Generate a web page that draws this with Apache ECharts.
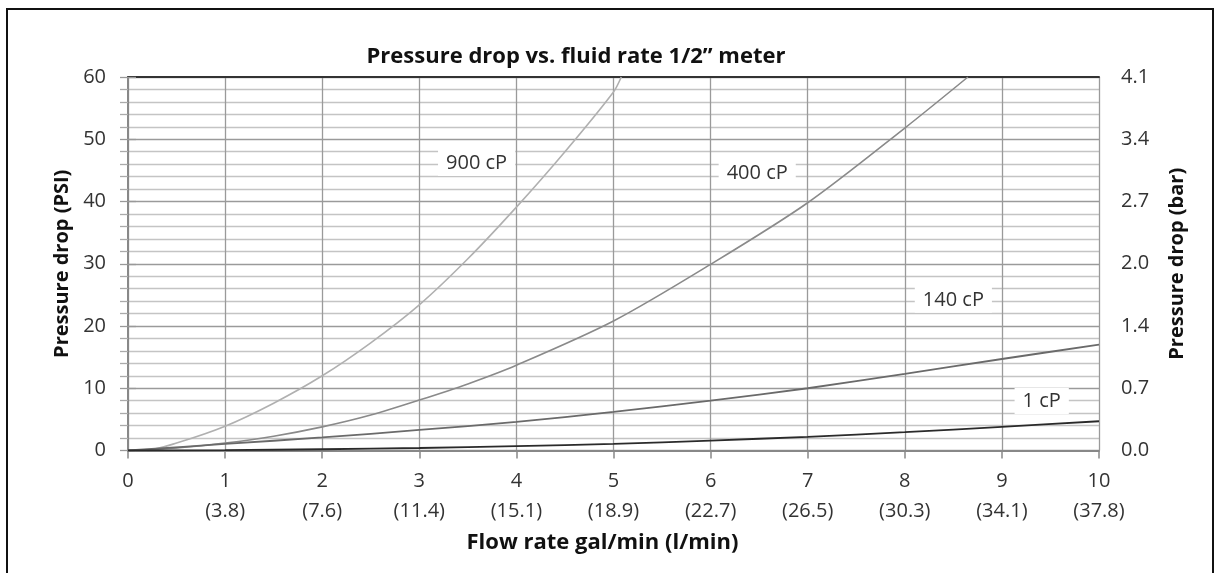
<!DOCTYPE html>
<html>
<head>
<meta charset="utf-8">
<script src="https://cdn.jsdelivr.net/npm/echarts@6/dist/echarts.min.js"></script>
<style>
html,body{margin:0;padding:0;background:#fff;}
#chart{width:1218px;height:573px;}
</style>
</head>
<body>
<div id="chart"></div>
<script>
// ---- data ----
var titleText = 'Pressure drop vs. fluid rate 1/2\u201d meter';
var xAxisTitle = 'Flow rate gal/min (l/min)';
var yLeftTitle = 'Pressure drop (PSI)';
var yRightTitle = 'Pressure drop (bar)';
var xTickLabels = ['0', '1\n(3.8)', '2\n(7.6)', '3\n(11.4)', '4\n(15.1)', '5\n(18.9)', '6\n(22.7)', '7\n(26.5)', '8\n(30.3)', '9\n(34.1)', '10\n(37.8)'];
var barTickLabels = ['0.0', '0.7', '1.4', '2.0', '2.7', '3.4', '4.1'];
var seriesNames = ['900 cP', '400 cP', '140 cP', '1 cP'];

var flow900 = [0, 0.2, 0.5, 1, 1.5, 2, 2.5, 3, 3.5, 4, 4.5, 5, 5.08];
var psi900  = [0, 0.05, 1.2, 3.9, 7.6, 12.0, 17.3, 23.4, 30.8, 39.1, 48.0, 57.6, 60];
var flow400 = [0, 0.5, 1, 1.5, 2, 2.5, 3, 3.5, 4, 5, 6, 7, 8, 8.65];
var psi400  = [0, 0.4, 1.2, 2.3, 3.8, 5.7, 8.1, 10.7, 13.7, 20.8, 29.9, 39.8, 51.8, 60];
var flow140 = [0, 1, 2, 3, 4, 5, 6, 7, 8, 9, 10];
var psi140  = [0, 1.05, 2.1, 3.3, 4.6, 6.2, 8.0, 10.0, 12.3, 14.7, 17.0];
var flow1   = [0, 1, 2, 3, 4, 5, 6, 7, 8, 9, 10];
var psi1    = [0, 0.05, 0.2, 0.4, 0.7, 1.05, 1.6, 2.2, 2.95, 3.8, 4.7];

function pairs(xs, ys) { return xs.map(function (x, i) { return [x, ys[i]]; }); }

var FONT = '"Open Sans"';
var chart = echarts.init(document.getElementById('chart'), null, {renderer: 'canvas'});

function curve(name, xs, ys, color, width, labelCoord) {
  return {
    name: name,
    type: 'line',
    data: pairs(xs, ys),
    smooth: 0.3,
    showSymbol: false,
    symbol: 'none',
    lineStyle: {color: color, width: width},
    z: 3,
    markPoint: {
      symbol: 'rect',
      symbolSize: 1,
      itemStyle: {color: 'rgba(0,0,0,0)'},
      silent: true,
      data: [{coord: labelCoord}],
      label: {
        show: true,
        position: 'inside',
        formatter: name,
        color: '#333',
        fontFamily: FONT,
        fontSize: 20,
        backgroundColor: '#fff',
        padding: [3, 8, 3, 8]
      }
    }
  };
}

var option = {
  animation: false,
  backgroundColor: '#fff',
  textStyle: {fontFamily: FONT},
  grid: {left: 128, right: 119, top: 77, bottom: 122.5, containLabel: false},
  graphic: [
    {type: 'rect', shape: {x: 7, y: 9, width: 1206, height: 620},
     style: {fill: 'none', stroke: '#111', lineWidth: 2}, z: 100},
    {type: 'text', x: 576, y: 57, z: 100,
     style: {text: titleText, fontFamily: FONT, fontWeight: 'bold', fontSize: 22,
             fill: '#111', textAlign: 'center', textVerticalAlign: 'middle'}}
  ],
  xAxis: [{
    type: 'value', min: 0, max: 10, interval: 1, position: 'bottom',
    name: xAxisTitle, nameLocation: 'middle', nameGap: 75,
    nameTextStyle: {fontFamily: FONT, fontWeight: 'bold', fontSize: 22, color: '#111', padding: [0, 22, 0, 0]},
    axisLine: {show: true, onZero: false, lineStyle: {color: '#888', width: 2}},
    axisTick: {show: true, length: 8, lineStyle: {color: '#888', width: 1.5}},
    axisLabel: {
      margin: 16, color: '#333', fontFamily: FONT, fontSize: 20, lineHeight: 30,
      formatter: function (v) { return xTickLabels[Math.round(v)]; }
    },
    splitLine: {show: true, lineStyle: {color: '#9a9a9a', width: 1.3}}
  }, {
    type: 'value', min: 0, max: 10, interval: 1, position: 'top',
    axisLine: {show: true, onZero: false, lineStyle: {color: '#333', width: 2}},
    axisTick: {show: false}, axisLabel: {show: false}, splitLine: {show: false}
  }],
  yAxis: [{
    type: 'value', min: 0, max: 60, interval: 10, position: 'left',
    name: yLeftTitle, nameLocation: 'middle', nameGap: 53, nameRotate: 90,
    nameTextStyle: {fontFamily: FONT, fontWeight: 'bold', fontSize: 20, color: '#111'},
    axisLine: {show: true, lineStyle: {color: '#888', width: 2}},
    axisTick: {show: true, length: 8, lineStyle: {color: '#999', width: 1.3}},
    minorTick: {show: true, splitNumber: 5, length: 8, lineStyle: {color: '#aaa', width: 1.3}},
    axisLabel: {margin: 22, color: '#333', fontFamily: FONT, fontSize: 20},
    splitLine: {show: true, lineStyle: {color: '#9a9a9a', width: 1.3}},
    minorSplitLine: {show: true, lineStyle: {color: '#c4c4c4', width: 1.3}}
  }, {
    type: 'value', min: 0, max: 60, interval: 10, position: 'right',
    name: yRightTitle, nameLocation: 'middle', nameGap: 68, nameRotate: 90,
    nameTextStyle: {fontFamily: FONT, fontWeight: 'bold', fontSize: 20, color: '#111'},
    axisLine: {show: true, lineStyle: {color: '#888', width: 2}},
    axisTick: {show: true, length: 8, lineStyle: {color: '#999', width: 1.3}},
    axisLabel: {margin: 22, color: '#333', fontFamily: FONT, fontSize: 20,
      formatter: function (v) { return barTickLabels[Math.round(v / 10)]; }},
    splitLine: {show: false}
  }],
  series: [
    curve(seriesNames[0], flow900, psi900, '#b0b0b0', 1.6, [3.59, 46.2]),
    curve(seriesNames[1], flow400, psi400, '#8a8a8a', 1.6, [6.48, 44.6]),
    curve(seriesNames[2], flow140, psi140, '#6a6a6a', 1.8, [8.50, 24.2]),
    curve(seriesNames[3], flow1, psi1, '#2a2a2a', 1.8, [9.41, 7.95])
  ]
};
chart.setOption(option);
</script>
</body>
</html>
